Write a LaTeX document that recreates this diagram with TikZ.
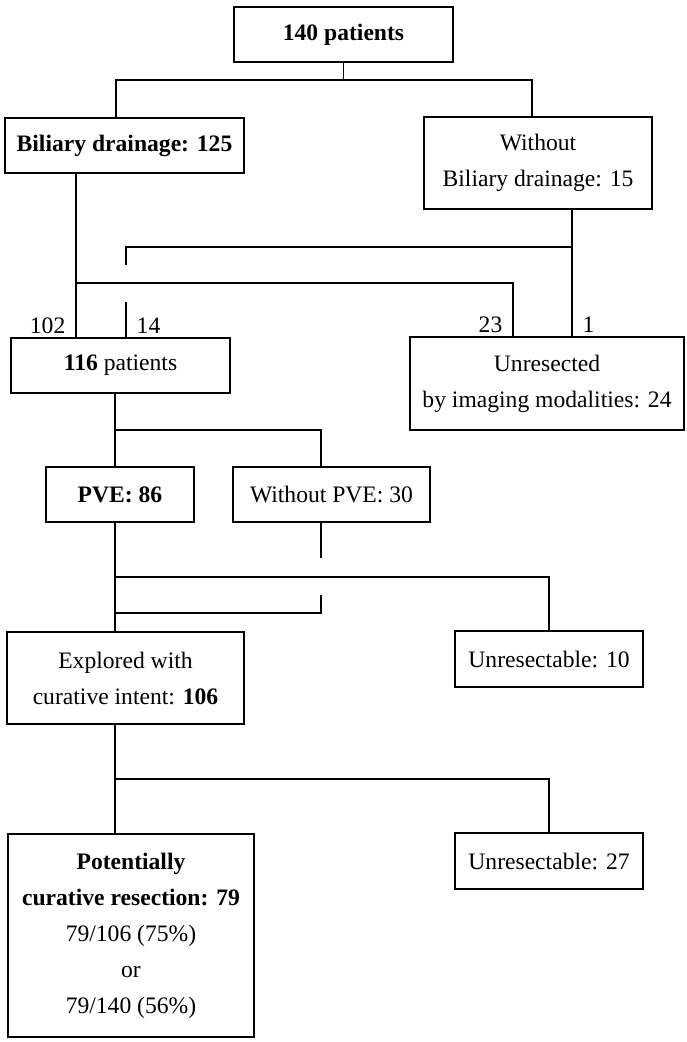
\documentclass[tikz,border=0pt]{standalone}
\usepackage{fontspec}
\setmainfont{Liberation Serif}
\usetikzlibrary{positioning}
\tikzset{
    box/.style={draw, line width=0.8pt, align=center, inner sep=0pt,
        font=\fontsize{11.8}{18}\selectfont},
    link/.style={line width=0.7pt},
    count/.style={font=\fontsize{11.8}{18}\selectfont, inner xsep=5pt, inner ysep=1.5pt}
}

\begin{document}
\begin{tikzpicture}[x=0.5pt, y=-0.5pt]
        % 患者流程图 (1 单位 = 原图 1 像素)
        \useasboundingbox (0,0) rectangle (686,1042);

        \node[box, minimum width=109.5pt, minimum height=27.5pt] (root) at (343.5,34.5) {\textbf{140 patients}};
        \node[box, minimum width=119.5pt, minimum height=27.5pt] (drain) at (124.5,145.5) {\textbf{Biliary drainage: 125}};
        \node[box, minimum width=114pt, minimum height=46pt] (nodrain) at (538,163) {Without\\Biliary drainage: 15};
        \node[box, minimum width=109.5pt, minimum height=27.5pt] (pts116) at (120.5,365.5) {\textbf{116} patients};
        \node[box, minimum width=137pt, minimum height=46.5pt] (unres24) at (547,383.5) {Unresected\\by imaging modalities: 24};
        \node[box, minimum width=74pt, minimum height=27.5pt] (pve) at (120,494.5) {\textbf{PVE: 86}};
        \node[box, minimum width=98.5pt, minimum height=27.5pt] (nopve) at (331.5,494.5) {Without PVE: 30};
        \node[box, minimum width=118.5pt, minimum height=46pt] (explored) at (125.5,678) {Explored with\\curative intent: \textbf{106}};
        \node[box, minimum width=94pt, minimum height=28pt] (unres10) at (549,659) {Unresectable: 10};
        \node[box, minimum width=123pt, minimum height=101.5pt] (cure) at (131,935.5)
            {\textbf{Potentially}\\\textbf{curative resection: 79}\\79/106 (75\%)\\or\\79/140 (56\%)};
        \node[box, minimum width=94pt, minimum height=28pt] (unres27) at (549,861) {Unresectable: 27};

        % 连接线
        \coordinate (split1) at (343.5,80);
        \coordinate (split2) at (76,283);
        \coordinate (split3) at (572,247);
        \coordinate (gap1a) at (126,265);
        \coordinate (gap1b) at (126,302);
        \coordinate (split4) at (115,430);
        \coordinate (split5) at (115,577);
        \coordinate (gap2a) at (321,558);
        \coordinate (gap2b) at (321,595);
        \coordinate (join2) at (115,613);
        \coordinate (split6) at (115,779);

        \draw[link] (root.south) -- (split1);
        \draw[link] (drain.north -| 116,0) |- (split1) -| (nodrain.north -| 532,0);

        \draw[link] (drain.south -| split2) -- (pts116.north -| split2) node[count, anchor=south east] {102};
        \draw[link] (split2) -| (unres24.north -| 513,0) node[count, anchor=south east] {23};
        \draw[link] (nodrain.south -| split3) -- (unres24.north -| split3) node[count, anchor=south west] {1};
        \draw[link] (split3) -| (gap1a);
        \draw[link] (gap1b) -- (pts116.north -| gap1b) node[count, anchor=south west] {14};

        \draw[link] (pts116.south -| split4) -- (pve.north -| split4);
        \draw[link] (split4) -| (nopve.north -| gap2a);

        \draw[link] (pve.south -| split5) -- (explored.north -| split5);
        \draw[link] (split5) -| (unres10.north);
        \draw[link] (nopve.south -| gap2a) -- (gap2a);
        \draw[link] (gap2b) |- (join2);

        \draw[link] (explored.south -| split6) -- (cure.north -| split6);
        \draw[link] (split6) -| (unres27.north);
\end{tikzpicture}
\end{document}
